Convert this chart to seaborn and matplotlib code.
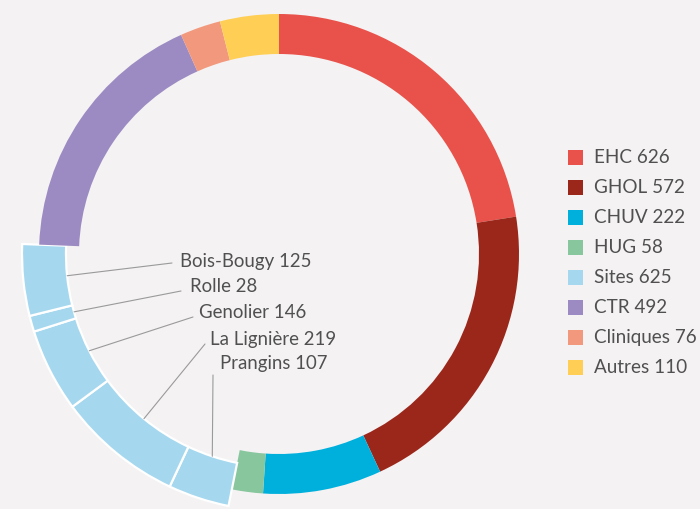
import numpy as np
import matplotlib
matplotlib.use('Agg')
import matplotlib.pyplot as plt
import seaborn as sns
from matplotlib.patches import Rectangle

# données
categories = ['EHC', 'GHOL', 'CHUV', 'HUG', 'Sites', 'CTR', 'Cliniques', 'Autres']
counts = [626, 572, 222, 58, 625, 492, 76, 110]
site_names = ['Prangins', 'La Lignière', 'Genolier', 'Rolle', 'Bois-Bougy']
site_counts = [107, 219, 146, 28, 125]

colors = ['#e9524a', '#9b271b', '#00b0dc', '#88c69e', '#a5d8ef', '#9c8bc2', '#f2987c', '#ffcf55']
bg = '#f4f2f3'
txt_color = '#505050'

sns.set_theme(style='white')
plt.rcParams['font.family'] = ['Lato', 'DejaVu Sans']

W, H = 700, 509
fig = plt.figure(figsize=(W / 100, H / 100), dpi=100, facecolor=bg)
ax = fig.add_axes([0, 0, 1, 1])
ax.set_facecolor(bg)

# anneau : les sites sont remplacés par leurs sous-parts
ring_vals, ring_cols = [], []
for cat, val, col in zip(categories, counts, colors):
    if cat == 'Sites':
        ring_vals += site_counts
        ring_cols += [col] * len(site_counts)
    else:
        ring_vals.append(val)
        ring_cols.append(col)

center = (279, H - 254)
wedges, _ = ax.pie(ring_vals, colors=ring_cols, radius=240,
                   center=center, startangle=90, counterclock=False,
                   wedgeprops=dict(width=40, linewidth=0))

# les sites débordent vers l'extérieur, séparés par un filet blanc
site_wedges = wedges[4:4 + len(site_counts)]
for w in site_wedges:
    w.set_radius(257)
    w.set_width(44)
    w.set_edgecolor('white')
    w.set_linewidth(1.6)

# étiquettes des sites avec lignes de rappel
label_pos = {'Bois-Bougy': (180, 262, 172, 263),
             'Rolle': (190, 287, 181, 291),
             'Genolier': (199, 312, 193, 317),
             'La Lignière': (210, 339, 205, 344),
             'Prangins': (220, 364, 213, 375)}
for name, val, w in zip(site_names, site_counts, site_wedges):
    tx, ty, lx, ly = label_pos[name]
    mid = np.deg2rad((w.theta1 + w.theta2) / 2)
    r_in = w.r - w.width
    ex = w.center[0] + r_in * np.cos(mid)
    ey = w.center[1] + r_in * np.sin(mid)
    ax.plot([lx, ex], [H - ly, ey], color='#9a9a9a', lw=0.8)
    ax.text(tx, H - ty, f'{name} {val}', fontsize=13.4, color=txt_color,
            ha='left', va='center')

# légende
for i, (cat, val, col) in enumerate(zip(categories, counts, colors)):
    y = 157 + 30.1 * i
    ax.add_patch(Rectangle((568, H - y - 7.5), 15, 15, color=col, lw=0))
    ax.text(594, H - y, f'{cat} {val}', fontsize=13.6, color=txt_color,
            ha='left', va='center')

ax.set_xlim(0, W)
ax.set_ylim(0, H)
ax.set_aspect('equal')
ax.axis('off')

fig.savefig('out.png', dpi=100, facecolor=bg)
